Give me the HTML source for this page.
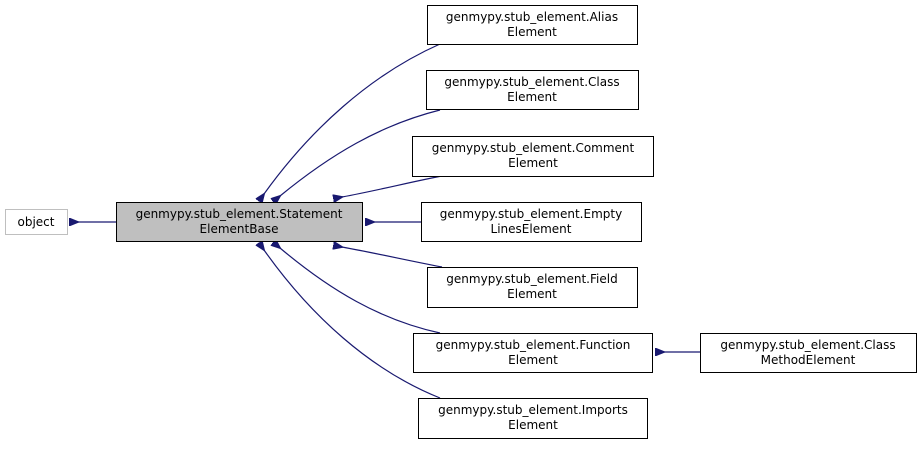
<!DOCTYPE html>
<html><head><meta charset="utf-8"><style>
html,body{margin:0;padding:0;background:#fff;}
svg text{font-family:"DejaVu Sans","Liberation Sans",sans-serif;font-size:12px;fill:#000;}
</style></head><body>
<svg width="920" height="444" viewBox="0 0 920 444" xmlns="http://www.w3.org/2000/svg">
<defs><marker id="a" markerWidth="10" markerHeight="8" refX="1" refY="4" orient="auto-start-reverse" markerUnits="userSpaceOnUse"><path d="M10,0 L0,4 L10,8 Z" fill="#191970" stroke="#191970"/></marker></defs>
<g fill="none" stroke="#191970" stroke-width="1.2">
<path d="M78,222 L116,222" marker-start="url(#a)"/>
<path d="M264,194 C310,130 370,75 440,44" marker-start="url(#a)"/>
<path d="M280,196 C330,155 380,125 440,110" marker-start="url(#a)"/>
<path d="M342,197 C380,190 410,182 442,176" marker-start="url(#a)"/>
<path d="M374,222 L421,222" marker-start="url(#a)"/>
<path d="M342,247 C380,254 410,261 442,267" marker-start="url(#a)"/>
<path d="M280,248 C330,290 380,320 440,333" marker-start="url(#a)"/>
<path d="M264,250 C310,315 370,370 440,398" marker-start="url(#a)"/>
<path d="M664,352 L700,352" marker-start="url(#a)"/>
</g>
<g stroke-width="1">
<rect x="5.5" y="209.5" width="62" height="25" fill="#fff" stroke="#bfbfbf"/>
<rect x="116.5" y="202.5" width="246" height="39" fill="#bfbfbf" stroke="#000"/>
<rect x="427.5" y="5.5" width="210" height="39" fill="#fff" stroke="#000"/>
<rect x="426.5" y="70.5" width="212" height="39" fill="#fff" stroke="#000"/>
<rect x="412.5" y="136.5" width="241" height="40" fill="#fff" stroke="#000"/>
<rect x="421.5" y="202.5" width="220" height="39" fill="#fff" stroke="#000"/>
<rect x="427.5" y="267.5" width="210" height="40" fill="#fff" stroke="#000"/>
<rect x="413.5" y="333.5" width="239" height="39" fill="#fff" stroke="#000"/>
<rect x="418.5" y="398.5" width="229" height="40" fill="#fff" stroke="#000"/>
<rect x="700.5" y="333.5" width="216" height="39" fill="#fff" stroke="#000"/>
</g>
<g text-anchor="middle">
<text x="36" y="226">object</text>
<text x="239" y="218">genmypy.stub_element.Statement</text><text x="239" y="233">ElementBase</text>
<text x="532" y="21">genmypy.stub_element.Alias</text><text x="532" y="36">Element</text>
<text x="532" y="86">genmypy.stub_element.Class</text><text x="532" y="101">Element</text>
<text x="533" y="152">genmypy.stub_element.Comment</text><text x="533" y="167">Element</text>
<text x="531" y="218">genmypy.stub_element.Empty</text><text x="531" y="233">LinesElement</text>
<text x="532" y="283">genmypy.stub_element.Field</text><text x="532" y="298">Element</text>
<text x="533" y="349">genmypy.stub_element.Function</text><text x="533" y="364">Element</text>
<text x="533" y="414">genmypy.stub_element.Imports</text><text x="533" y="429">Element</text>
<text x="808" y="349">genmypy.stub_element.Class</text><text x="808" y="364">MethodElement</text>
</g>
</svg>
</body></html>
